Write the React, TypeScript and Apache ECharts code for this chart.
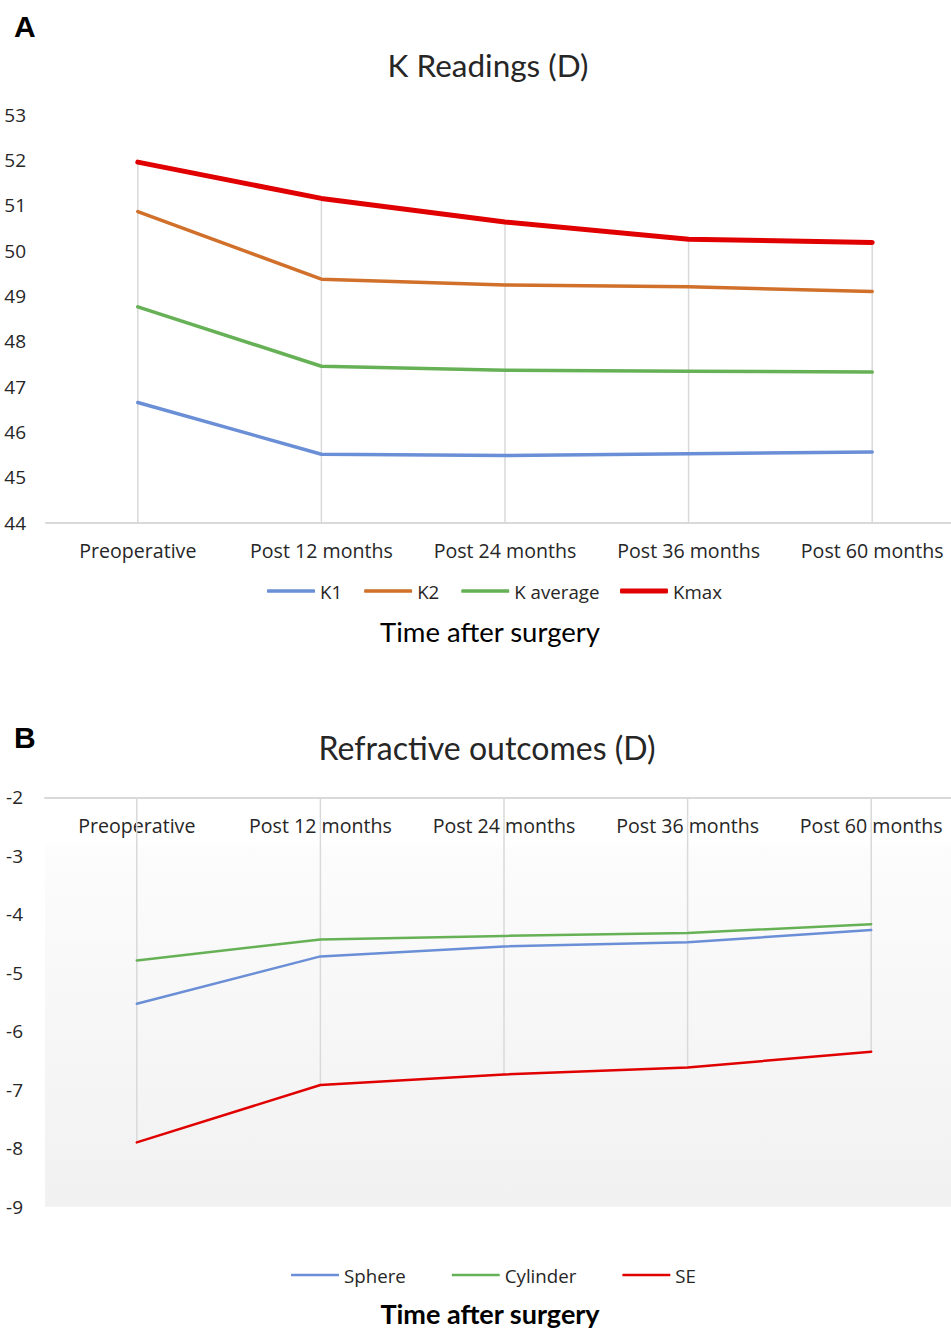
import React, { useEffect, useRef } from "react";
import * as echarts from "echarts";

const categories = ["Preoperative", "Post 12 months", "Post 24 months", "Post 36 months", "Post 60 months"];

const k1 = [46.65, 45.51, 45.48, 45.52, 45.56];
const k2 = [50.86, 49.37, 49.24, 49.2, 49.1];
const kAverage = [48.76, 47.45, 47.36, 47.34, 47.32];
const kMax = [51.95, 51.15, 50.63, 50.25, 50.18];

const sphere = [-5.53, -4.72, -4.55, -4.48, -4.27];
const cylinder = [-4.79, -4.43, -4.37, -4.32, -4.17];
const se = [-7.9, -6.92, -6.74, -6.62, -6.35];

const kAxisMin = 44;
const kAxisMax = 53;
const rAxisMin = -9;
const rAxisMax = -2;

const BLUE = "#6a8fd6";
const ORANGE = "#d0702a";
const GREEN = "#66b155";
const RED = "#e00000";
const GRID_GRAY = "#d9d9d9";
const TEXT = "#262626";

const LABEL_FONT = "'Open Sans', 'Noto Sans', sans-serif";
const TITLE_FONT = "Lato, 'Open Sans', sans-serif";

const CHART_W = 964;
const CHART_H = 1330;

function dropSeries(axisIndex: number, ends: number[], base: number) {
  return {
    type: "custom",
    xAxisIndex: axisIndex,
    yAxisIndex: axisIndex,
    z: 1,
    silent: true,
    data: ends.map((v, i) => [i, v]),
    renderItem: (_params: any, api: any) => {
      const p1 = api.coord([api.value(0), base]);
      const p2 = api.coord([api.value(0), api.value(1)]);
      return {
        type: "line",
        shape: { x1: p1[0], y1: p1[1], x2: p2[0], y2: p2[1] },
        style: { stroke: GRID_GRAY, lineWidth: 1.5 },
      };
    },
  };
}

function lineSeries(name: string, data: number[], color: string, width: number, axisIndex: number) {
  return {
    name,
    type: "line",
    xAxisIndex: axisIndex,
    yAxisIndex: axisIndex,
    data,
    symbol: "none",
    z: 3,
    color,
    lineStyle: { color, width, cap: "round", join: "round" },
  };
}

function legendBlock(names: string[], left: number, centerY: number, thickness: number, gap: number) {
  return {
    left,
    top: centerY - 12,
    padding: 0,
    icon: "roundRect",
    itemWidth: 48,
    itemHeight: thickness,
    itemGap: gap,
    textStyle: { fontFamily: LABEL_FONT, fontSize: 18.7, color: TEXT, lineHeight: 24 },
    data: names,
  };
}

export default function App() {
  const ref = useRef<HTMLDivElement>(null);

  useEffect(() => {
    if (!ref.current) return;
    const chart = echarts.init(ref.current, undefined, { renderer: "svg" });

    const topDrop = categories.map((_, i) => Math.max(k1[i], k2[i], kAverage[i], kMax[i]));
    const bottomDrop = categories.map((_, i) => Math.min(sphere[i], cylinder[i], se[i]));

    const option: any = {
      animation: false,
      backgroundColor: "#ffffff",
      graphic: [
        { type: "text", left: 14, top: 11, style: { text: "A", font: "bold 30px 'Liberation Sans', Arial, sans-serif", fill: "#000" } },
        { type: "text", x: 488, y: 65, style: { text: "K Readings (D)", font: `31.5px ${TITLE_FONT}`, fill: TEXT, textAlign: "center", textVerticalAlign: "middle" } },
        { type: "text", x: 490, y: 631, style: { text: "Time after surgery", font: `27.5px ${TITLE_FONT}`, fill: "#000", textAlign: "center", textVerticalAlign: "middle" } },
        { type: "text", left: 14, top: 722, style: { text: "B", font: "bold 30px 'Liberation Sans', Arial, sans-serif", fill: "#000" } },
        { type: "text", x: 487, y: 747, style: { text: "Refractive outcomes (D)", font: `32px ${TITLE_FONT}`, fill: TEXT, textAlign: "center", textVerticalAlign: "middle" } },
        { type: "text", x: 490, y: 1313, style: { text: "Time after surgery", font: `bold 27px ${TITLE_FONT}`, fill: "#000", textAlign: "center", textVerticalAlign: "middle" } },
      ],
      legend: [
        legendBlock(["K1", "K2", "K average"], 267, 591, 3.5, 22),
        legendBlock(["Kmax"], 620, 591, 5, 22),
        legendBlock(["Sphere", "Cylinder", "SE"], 291, 1275, 2.5, 46),
      ],
      grid: [
        { left: 46, right: 0, top: 114.5, bottom: CHART_H - 522.7 },
        {
          left: 45,
          right: 1,
          top: 797.3,
          bottom: CHART_H - 1206.7,
          show: true,
          borderWidth: 0,
          backgroundColor: new echarts.graphic.LinearGradient(0, 0, 0, 1, [
            { offset: 0, color: "#ffffff" },
            { offset: 0.11, color: "#ffffff" },
            { offset: 0.13, color: "#fcfcfc" },
            { offset: 1, color: "#f1f1f1" },
          ]),
        },
      ],
      xAxis: [
        {
          gridIndex: 0,
          type: "category",
          data: categories,
          boundaryGap: true,
          axisLine: { show: true, lineStyle: { color: GRID_GRAY, width: 2 } },
          axisTick: { show: false },
          splitLine: { show: false },
          axisLabel: { margin: 18, fontFamily: LABEL_FONT, fontSize: 19.6, color: TEXT, interval: 0 },
        },
        {
          gridIndex: 1,
          type: "category",
          data: categories,
          position: "top",
          boundaryGap: true,
          axisLine: { show: true, lineStyle: { color: GRID_GRAY, width: 2 } },
          axisTick: { show: false },
          splitLine: { show: false },
          axisLabel: { inside: true, margin: 18, fontFamily: LABEL_FONT, fontSize: 19.6, color: TEXT, interval: 0 },
        },
      ],
      yAxis: [
        {
          gridIndex: 0,
          type: "value",
          min: kAxisMin,
          max: kAxisMax,
          interval: 1,
          axisLine: { show: false },
          axisTick: { show: false },
          splitLine: { show: false },
          axisLabel: { margin: 20, fontFamily: LABEL_FONT, fontSize: 19, color: TEXT },
        },
        {
          gridIndex: 1,
          type: "value",
          min: rAxisMin,
          max: rAxisMax,
          interval: 1,
          axisLine: { show: false },
          axisTick: { show: false },
          splitLine: { show: false },
          axisLabel: { margin: 22, fontFamily: LABEL_FONT, fontSize: 19, color: TEXT },
        },
      ],
      series: [
        dropSeries(0, topDrop, kAxisMin),
        lineSeries("K1", k1, BLUE, 3.5, 0),
        lineSeries("K2", k2, ORANGE, 3.5, 0),
        lineSeries("K average", kAverage, GREEN, 3.5, 0),
        lineSeries("Kmax", kMax, RED, 5, 0),
        dropSeries(1, bottomDrop, rAxisMax),
        lineSeries("Sphere", sphere, BLUE, 2.5, 1),
        lineSeries("Cylinder", cylinder, GREEN, 2.5, 1),
        lineSeries("SE", se, RED, 2.5, 1),
      ],
    };

    chart.setOption(option);
    return () => chart.dispose();
  }, []);

  return (
    <div style={{ position: "absolute", left: 0, top: 0, width: 951, height: 1330, overflow: "hidden", background: "#fff" }}>
      <div ref={ref} style={{ width: CHART_W, height: CHART_H }} />
    </div>
  );
}
